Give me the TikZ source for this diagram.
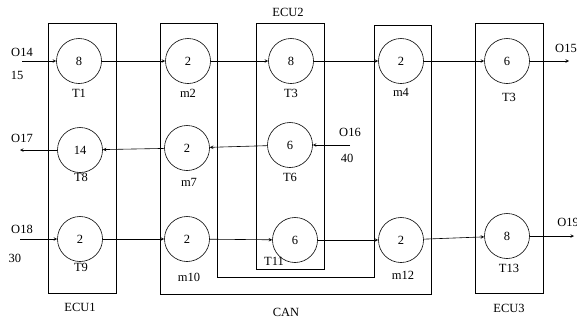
\documentclass[tikz,border=0pt]{standalone}
\usepackage{fontspec}
\setmainfont{Liberation Serif}
\usetikzlibrary{arrows}
\usetikzlibrary{positioning, calc}

\begin{document}
\begin{tikzpicture}[>=stealth, x=1pt, y=-1pt, line width=0.6pt,
    font=\fontsize{12.5}{14}\selectfont,
    task/.style={draw, circle, minimum size=45pt, inner sep=0pt},
    lab/.style={inner sep=0pt}]
  \useasboundingbox (0,0) rectangle (577,322);

  % ECU boxes and the CAN bus
  \draw (48,23) rectangle (116,293);
  \draw (256,23) rectangle (324,269);
  \draw (475,23) rectangle (543,293);
  \draw (160,23) -- (217,23) -- (217,277) -- (374,277) -- (374,25) -- (431,25)
        -- (431,294) -- (160,294) -- cycle;
  \node[lab] (ecu1) at (80,307) {ECU1};
  \node[lab] (ecu2) at (288,12) {ECU2};
  \node[lab] (ecu3) at (509,308) {ECU3};
  \node[lab] (can) at (286,312) {CAN};

  % tasks and messages
  \node[task] (t1) at (79,61) {8};
  \node[task] (m2) at (188,61) {2};
  \node[task] (t3) at (291,61) {8};
  \node[task] (m4) at (401,61) {2};
  \node[task] (t3b) at (507,61) {6};
  \node[task] (t8) at (80,150) {14};
  \node[task] (m7) at (187,148) {2};
  \node[task] (t6) at (290,145) {6};
  \node[task] (t9) at (80,239) {2};
  \node[task] (m10) at (187,239) {2};
  \node[task] (t11) at (295,240) {6};
  \node[task] (m12) at (401,240) {2};
  \node[task] (t13) at (507,236) {8};

  \node[lab] (t1l) at (79,93) {T1};
  \node[lab] (m2l) at (188,93) {m2};
  \node[lab] (t3l) at (291,93) {T3};
  \node[lab] (m4l) at (401,92) {m4};
  \node[lab] (t3bl) at (509,97) {T3};
  \node[lab] (t8l) at (81,177) {T8};
  \node[lab] (m7l) at (189,182) {m7};
  \node[lab] (t6l) at (290,177) {T6};
  \node[lab] (t9l) at (81,267) {T9};
  \node[lab] (m10l) at (189,277) {m10};
  \node[lab] (t11l) at (274,261) {T11};
  \node[lab] (m12l) at (403,275) {m12};
  \node[lab] (t13l) at (509,268) {T13};

  % inputs and outputs
  \coordinate (o14) at (22,61);
  \coordinate (o15) at (569,61);
  \coordinate (o16) at (350,145);
  \coordinate (o17) at (20,150);
  \coordinate (o18) at (20,239);
  \coordinate (o19) at (574,236);
  \node[lab] (o14l) at (22,52) {O14};
  \node[lab] (o14p) at (17,75) {15};
  \node[lab] (o15l) at (566,48) {O15};
  \node[lab] (o16l) at (350,132) {O16};
  \node[lab] (o16p) at (347,158) {40};
  \node[lab] (o17l) at (22,138) {O17};
  \node[lab] (o18l) at (22,229) {O18};
  \node[lab] (o18p) at (15,258) {30};
  \node[lab, anchor=west] (o19l) at (557,222) {O19};

  % flows
  \draw[->] (o14) -- (t1);
  \draw[->] (t1) -- (m2);
  \draw[->] (m2) -- (t3);
  \draw[->] (t3) -- (m4);
  \draw[->] (m4) -- (t3b);
  \draw[->] (t3b) -- (o15);
  \draw[->] (o16) -- (t6);
  \draw[->] (t6) -- (m7);
  \draw[->] (m7) -- (t8);
  \draw[->] (t8) -- (o17);
  \draw[->] (o18) -- (t9);
  \draw[->] (t9) -- (m10);
  \draw[->] (m10) -- (t11);
  \draw[->] (t11) -- (m12);
  \draw[->] (m12) -- (t13);
  \draw[->] (t13) -- (o19);
\end{tikzpicture}
\end{document}
